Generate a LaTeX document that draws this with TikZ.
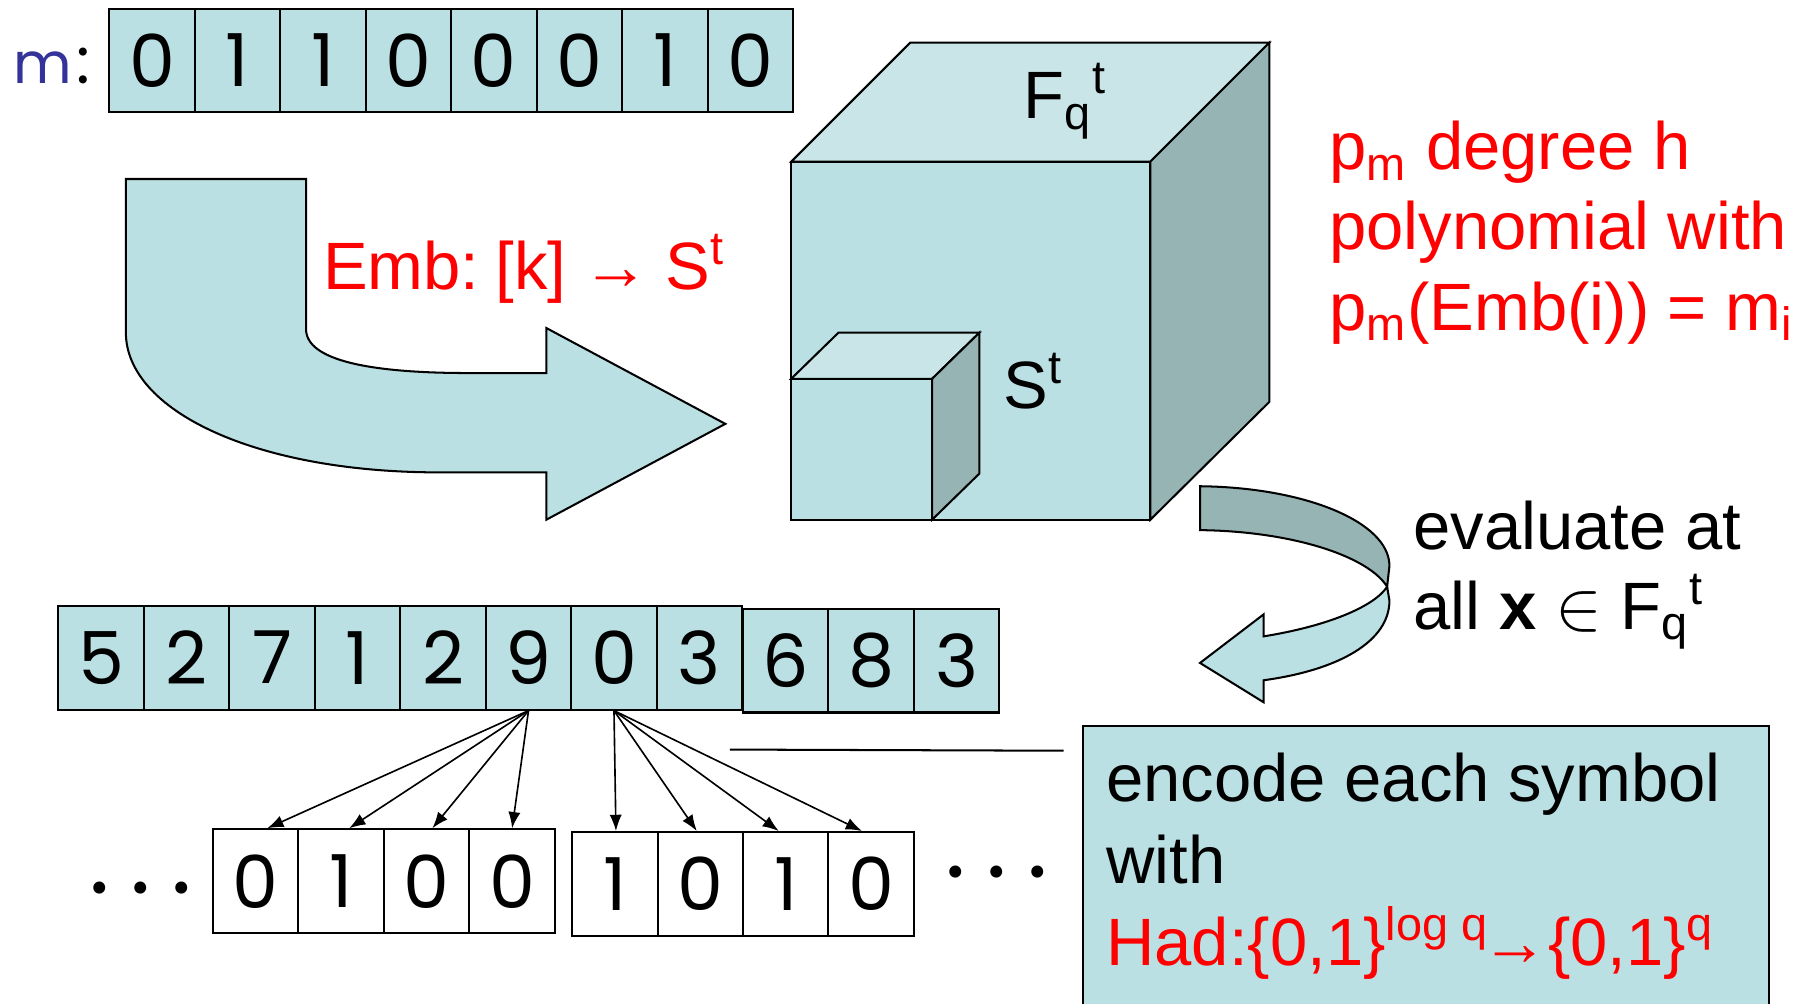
\documentclass[tikz,border=0pt]{standalone}
\usepackage{fontspec}
\setmainfont{Liberation Sans}
\newfontfamily\handfont{Poppins}
\usetikzlibrary{arrows.meta}

\definecolor{cellblue}{RGB}{187,224,227}
\definecolor{topblue}{RGB}{201,229,232}
\definecolor{sidegray}{RGB}{151,180,181}
\definecolor{mblue}{RGB}{51,51,153}

\begin{document}
\begin{tikzpicture}[x=0.1mm, y=-0.1mm, line width=0.5pt,
    cell/.style={draw, fill=cellblue, minimum width=7.4mm, minimum height=9mm, inner sep=0pt, font=\handfont\fontsize{18}{20}\selectfont},
    bitcell/.style={cell, fill=white},
    txt/.style={font=\fontsize{16.5}{19.8}\selectfont, inner sep=0pt},
    redtxt/.style={txt, text=red},
    dots/.style={font=\handfont\fontsize{24}{24}\selectfont, inner sep=0pt},
    bitarrow/.style={-{Latex[length=4pt,width=3pt]}, line width=0.4pt}]
    \useasboundingbox (0,0) rectangle (1568,869);
    \clip (0,0) rectangle (1568,869);

    % Message m
    \node[anchor=base west, inner sep=0pt, font=\handfont\fontsize{14}{16}\selectfont, text=mblue] (mlabel) at (11,72) {m\textcolor{black}{\fontsize{16}{16}\selectfont\kern1pt:}};
    \foreach \b [count=\i] in {0,1,1,0,0,0,1,0}
        \node[cell] (m\i) at ({131.6+74*(\i-1)},52.4) {\b};

    % Embedding arrow
    \draw[fill=cellblue] (109,155) -- (265,155) -- (265,285) .. controls (265,312) and (320,323) .. (406,323) -- (473,323) -- (473,284) -- (628,367) -- (473,450) -- (473,409) -- (380,409) .. controls (220,409) and (109,355) .. (109,288) -- cycle;
    \node[redtxt, anchor=base west] (emb) at (279,251) {Emb:\hspace{4pt}[k]\hspace{4pt}→\hspace{4pt}S\textsuperscript{t}};

    % Big cube F_q^t
    \draw[fill=cellblue] (685,140) rectangle (996,450);
    \draw[fill=topblue] (685,140) -- (788,37) -- (1099,37) -- (996,140) -- cycle;
    \draw[fill=sidegray] (996,140) -- (1099,37) -- (1099,348) -- (996,450) -- cycle;
    \node[txt, anchor=base west] (fqt) at (885,103) {F\textsubscript{q}\textsuperscript{t}};

    % Small cube S^t
    \draw[fill=cellblue] (685,328) rectangle (807,450);
    \draw[fill=topblue] (685,328) -- (726,288) -- (848,288) -- (807,328) -- cycle;
    \draw[fill=sidegray] (807,328) -- (848,288) -- (848,410) -- (807,450) -- cycle;
    \node[txt, anchor=base west] (st) at (868,354) {S\textsuperscript{t}};

    % Polynomial p_m (base = last line)
    \node[redtxt, anchor=base west, align=left] (poly) at (1150,286) {p\textsubscript{m} degree h\\polynomial with\\p\textsubscript{m}(Emb(i)) = m\textsubscript{i}};

    % Evaluation arrow
    \draw[fill=sidegray] (1039,421) .. controls (1130,422) and (1203,452) .. (1203,490) -- (1201,508) .. controls (1185,482) and (1120,460) .. (1039,459) -- cycle;
    \draw[fill=cellblue] (1201,508) -- (1203,520) .. controls (1203,555) and (1160,580) .. (1094,589) -- (1094,608) -- (1039,574) -- (1094,532) -- (1094,551) .. controls (1150,542) and (1190,525) .. (1201,508) -- cycle;
    \node[txt, anchor=base west, align=left] (eval) at (1223,545) {evaluate at\\all \textbf{x} $\in$ F\textsubscript{q}\textsuperscript{t}};

    % Codeword over F_q
    \foreach \s [count=\i] in {5,2,7,1,2,9,0,3}
        \node[cell] (c\i) at ({87.6+74*(\i-1)},569.4) {\s};
    \foreach \s [count=\i from 9] in {6,8,3}
        \node[cell] (c\i) at ({680.3+74*(\i-9)},571.9) {\s};

    % Binary blocks
    \foreach \b [count=\i] in {0,1,0,0}
        \node[bitcell] (b\i) at ({221.4+74*(\i-1)},763) {\b};
    \foreach \b [count=\i from 5] in {1,0,1,0}
        \node[bitcell] (b\i) at ({532.3+74*(\i-5)},765.4) {\b};
    \node[dots] (ldots) at (122,769) {.\hspace{5pt}.\hspace{5pt}.};
    \node[dots] (rdots) at (863,755) {.\hspace{5pt}.\hspace{5pt}.};

    % Symbols to bits
    \foreach \i/\dx in {1/10,2/7,3/5,4/0}
        \draw[bitarrow] (c6.south) -- ([xshift=\dx*0.1mm]b\i.north);
    \foreach \i/\dx in {5/1,6/-3,7/-6,8/-8}
        \draw[bitarrow] (c7.south) -- ([xshift=\dx*0.1mm]b\i.north);

    % Hadamard box
    \coordinate (lineL) at (632,649);
    \coordinate (lineR) at (921,650);
    \draw (lineL) -- (lineR);
    \node[draw, fill=cellblue, anchor=north west, minimum width=59.4mm, minimum height=25.5mm, inner sep=0pt] (encbox) at (937,628) {};
    \node[txt, font=\fontsize{16.5}{20.2}\selectfont, anchor=base west, align=left] (enc) at (957,836) {encode each symbol\\with\\\textcolor{red}{Had:\{0,1\}\textsuperscript{log q}\kern-2pt→\{0,1\}\textsuperscript{q}}};
\end{tikzpicture}
\end{document}
